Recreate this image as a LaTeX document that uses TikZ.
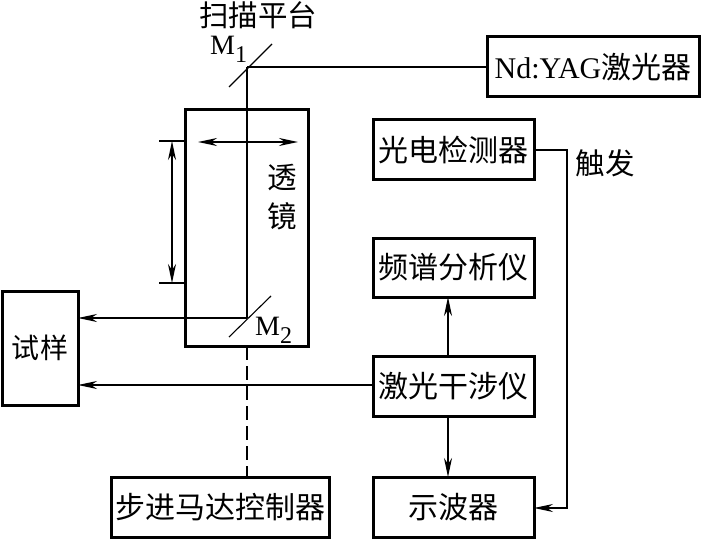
\documentclass[tikz,border=0pt]{standalone}
\usepackage{fontspec}
\setmainfont{Liberation Serif}
\newfontfamily\cjk{Noto Sans CJK SC}
\usetikzlibrary{arrows.meta,calc}
\tikzset{
  x=1pt,y=-1pt,
  boxn/.style={draw=black,line width=3pt,inner sep=0pt,outer sep=0pt,anchor=north west,font=\cjk\fontsize{30}{30}\selectfont,align=center},
  lab/.style={inner sep=0pt,font=\cjk\fontsize{29.5}{30}\selectfont,align=center},
  sym/.style={inner sep=0pt,font=\fontsize{28}{28}\selectfont},
  thin line/.style={line width=1.1pt},
  beam/.style={line width=2pt},
  mirror/.style={line width=1.1pt},
  barb/.style={-{Stealth[length=19pt,width=8pt,inset=6pt]},line width=1.1pt},
  dbarb/.style={{Stealth[length=19pt,width=8pt,inset=6pt]}-{Stealth[length=19pt,width=8pt,inset=6pt]},line width=1.6pt},
}
\begin{document}
\begin{tikzpicture}
\useasboundingbox (0,0) rectangle (708,540);
\node[boxn,minimum width=212pt,minimum height=60pt] (yag) at (487,37) {{\rmfamily Nd:YAG}激光器};
\node[boxn,minimum width=123pt,minimum height=236pt] (lens) at (185,110) {};
\node[boxn,minimum width=161pt,minimum height=59pt] (pd) at (373,120) {光电检测器};
\node[boxn,minimum width=161pt,minimum height=59pt] (fs) at (373,238) {频谱分析仪};
\node[boxn,minimum width=161pt,minimum height=60pt] (ifm) at (373,356) {激光干涉仪};
\node[boxn,minimum width=161pt,minimum height=60pt] (osc) at (373,477) {示波器};
\node[boxn,minimum width=218pt,minimum height=60pt] (step) at (111,477) {步进马达控制器};
\node[boxn,minimum width=76pt,minimum height=114pt,font=\cjk\fontsize{28}{28}\selectfont] (smp) at (2,291) {试样};
\node[lab] (title) at (258,15) {扫描平台};
\node[lab] (tou) at (282,178) {透};
\node[lab] (jing) at (282,216) {镜};
\node[lab] (chufa) at (605,163) {触发};
\node[sym,anchor=base west] (m1) at (210,55) {M\raisebox{-8pt}{\fontsize{24}{24}\selectfont 1}};
\node[sym,anchor=base west] (m2) at (255,335) {M\raisebox{-8pt}{\fontsize{24}{24}\selectfont 2}};
% mirrors
\coordinate (m1a) at (229,87); \coordinate (m1b) at (272,44);
\coordinate (m2a) at (229,337); \coordinate (m2b) at (271,296);
\coordinate (j1) at (247,67); \coordinate (j2) at (247,318);
\draw[mirror] (m1a) -- (m1b);
\draw[mirror] (m2a) -- (m2b);
% beam
\draw[thin line] (j1) -- (yag.west |- j1);
\draw[beam] (j1) -- (j2);
\draw[barb] (j2) -- (smp.east |- j2);
\draw[beam,dash pattern=on 14pt off 6pt] (lens.south -| j2) -- (step.north -| j2);
% lens motion
\coordinate (la) at (198,142); \coordinate (lb) at (298,142);
\draw[dbarb] (la) -- (lb);
% dimension
\coordinate (d1) at (159,141); \coordinate (d2) at (159,283);
\draw[thin line] (d1) -- (lens.west |- d1);
\draw[thin line] (d2) -- (lens.west |- d2);
\coordinate (da) at (172,141); \coordinate (db) at (172,283);
\draw[dbarb,line width=1.2pt] (da) -- (db);
% interferometer
\coordinate (y3) at (0,385);
\draw[barb] (ifm.west |- y3) -- (smp.east |- y3);
\coordinate (x4) at (448,0);
\draw[barb] (ifm.north -| x4) -- (fs.south -| x4);
\draw[barb] (ifm.south -| x4) -- (osc.north -| x4);
% trigger
\coordinate (t1) at (567,150);
\coordinate (t2) at (567,508);
\draw[barb] (pd.east |- t1) -- (t1) -- (t2) -- (osc.east |- t2);
\end{tikzpicture}
\end{document}
